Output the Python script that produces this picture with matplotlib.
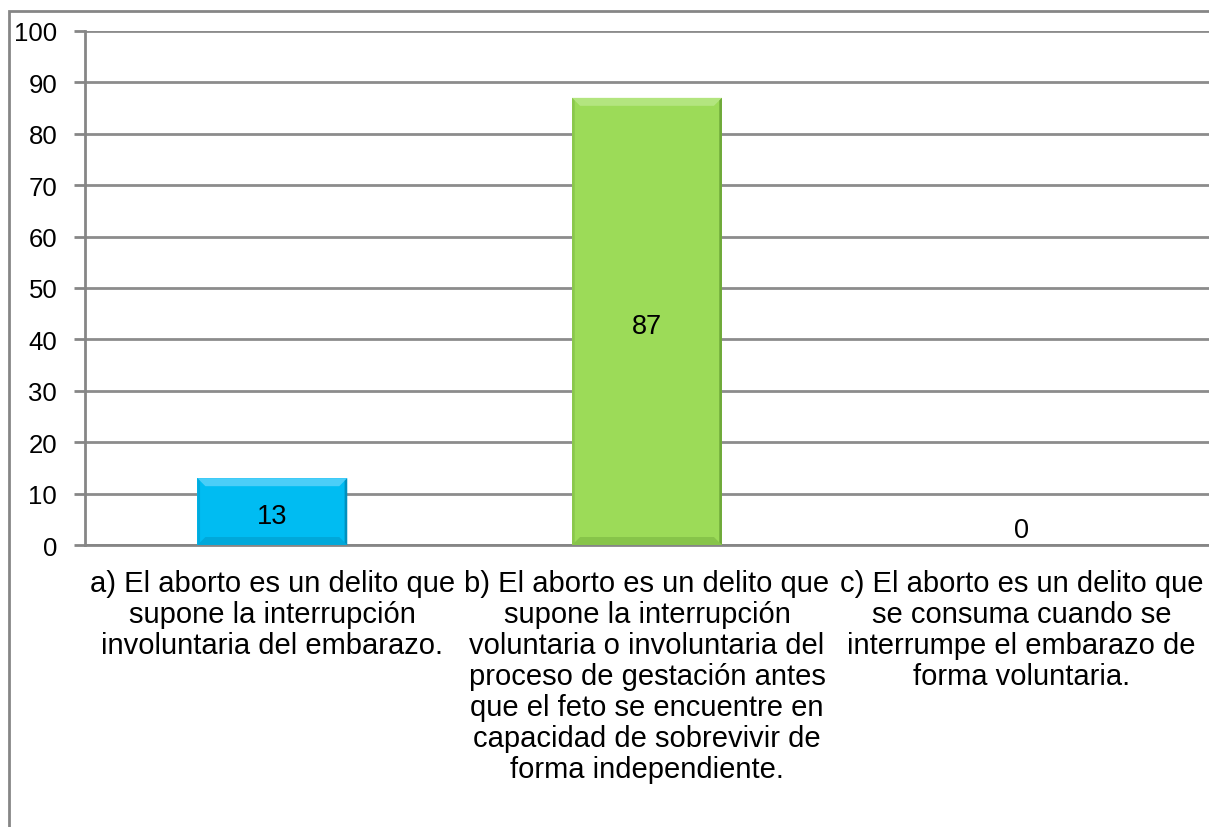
import matplotlib.pyplot as plt
from matplotlib.patches import Polygon, Rectangle
import numpy as np

plt.rcParams['font.family'] = ['Liberation Sans', 'DejaVu Sans']

categorias = [
    "a) El aborto es un delito que\nsupone la interrupción\ninvoluntaria del embarazo.",
    "b) El aborto es un delito que\nsupone la interrupción\nvoluntaria o involuntaria del\nproceso de gestación antes\nque el feto se encuentre en\ncapacidad de sobrevivir de\nforma independiente.",
    "c) El aborto es un delito que\nse consuma cuando se\ninterrumpe el embarazo de\nforma voluntaria.",
]
valores = [13, 87, 0]
colores = ['#00BCF2', '#9CDB58']
claros = ['#5FD3FA', '#B9E889']
oscuros = ['#0090BE', '#6FA93A']
yticks = np.arange(0, 101, 10)

fig = plt.figure(figsize=(12.09, 8.28), dpi=100)
ax = fig.add_axes([85 / 1209, 1 - 546 / 828, 1 - 85 / 1209, (546 - 32) / 828])

# borde exterior del grafico (recortado a la derecha y abajo)
fig.patches.append(Rectangle((9 / 1209, -0.1), 1.2, 0.1 + (828 - 12) / 828,
                             transform=fig.transFigure, fill=False,
                             edgecolor='#868686', linewidth=2))

x = np.arange(len(valores))
barras = ax.bar(x, valores, width=0.40, color=colores + ['none'], zorder=3)

ax.set_xlim(-0.5, 2.5)
ax.set_ylim(0, 100)
ax.set_yticks(yticks)
ax.tick_params(axis='y', labelsize=18.5, length=8, width=2, color='#868686', pad=12)
ax.set_xticks(x)
ax.set_xticklabels(categorias, fontsize=21, linespacing=1.14)
ax.tick_params(axis='x', length=0, pad=17)
ax.grid(axis='y', color='#8C8C8C', linewidth=2, zorder=0)
for s in ['top', 'right']:
    ax.spines[s].set_visible(False)
ax.spines['left'].set_color('#868686')
ax.spines['left'].set_linewidth(2)
ax.spines['bottom'].set_color('#868686')
ax.spines['bottom'].set_linewidth(2)

# efecto bisel de excel
dx = 3 / 1124 * 8
dy = 100 / 514 * 8
for i, b in enumerate(barras):
    h = b.get_height()
    if h <= 0:
        continue
    x0, x1 = b.get_x(), b.get_x() + b.get_width()
    ax.add_patch(Polygon([[x0, h], [x1, h], [x1 - dx, h - dy], [x0 + dx, h - dy]],
                         closed=True, color=claros[i], zorder=4, lw=0, alpha=0.8))
    ax.add_patch(Polygon([[x0, 0], [x1, 0], [x1 - dx, dy], [x0 + dx, dy]],
                         closed=True, color=oscuros[i], zorder=4, lw=0, alpha=0.45))
    ax.add_patch(Polygon([[x1, 0], [x1, h], [x1 - dx / 3, h - dy / 3], [x1 - dx / 3, dy / 3]],
                         closed=True, color=oscuros[i], zorder=4, lw=0))
    ax.add_patch(Polygon([[x0, 0], [x0, h], [x0 + dx / 3, h - dy / 3], [x0 + dx / 3, dy / 3]],
                         closed=True, color=oscuros[i], zorder=4, lw=0, alpha=0.4))

for xi, v in zip(x, valores):
    ypos = v / 2 - 0.8 if v > 0 else 3
    ax.text(xi, ypos, str(v), ha='center', va='center', fontsize=19.5, zorder=5)

fig.savefig('out.png', dpi=100)
